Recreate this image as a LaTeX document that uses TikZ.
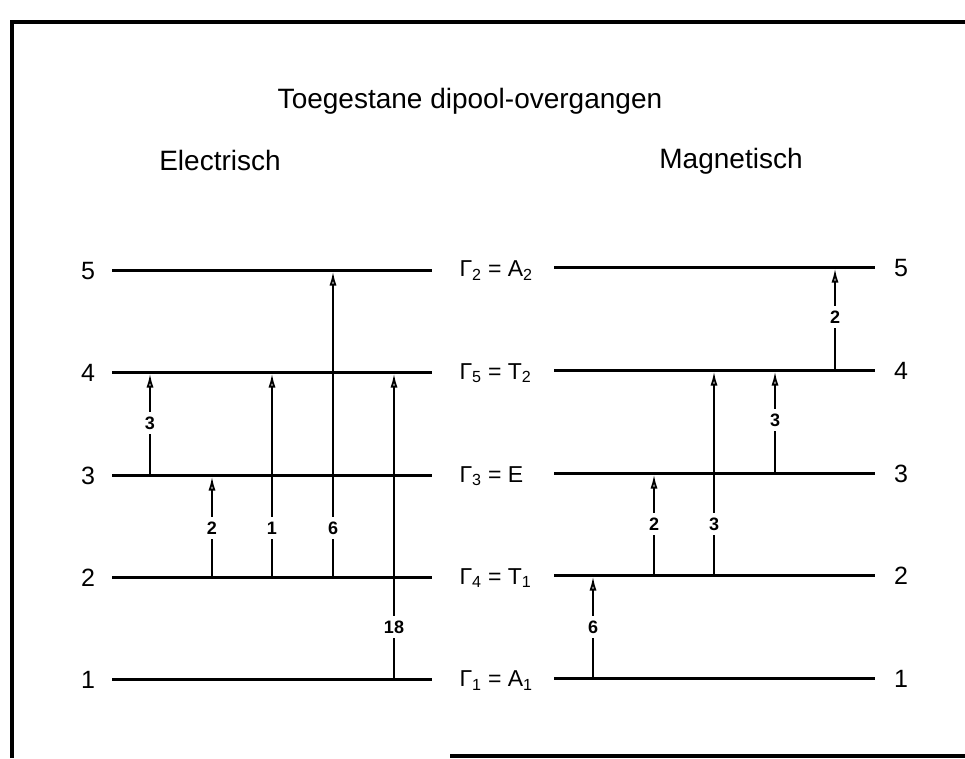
\documentclass[tikz,border=0pt]{standalone}
\usepackage{fontspec}
\setmainfont{Liberation Sans}
\usetikzlibrary{arrows.meta}
\newcommand{\dtrans}[6]{%
  \coordinate (#6a) at (#1,#2);
  \coordinate (#6b) at (#1,#3+1.5);
  \draw[trans] (#6a) -- (#6b);
  \node[tlabel] (#6t) at (#1,#4) {#5};
}
\begin{document}
\begin{tikzpicture}[x=1pt,y=-1pt,
  frame/.style={line width=3.5pt},
  levelline/.style={line width=3pt},
  trans/.style={line width=2pt,-{Latex[open,length=14pt,width=7pt,line width=1.8pt]}},
  tlabel/.style={fill=white,inner xsep=1pt,inner ysep=5pt,font=\fontsize{18}{18}\selectfont\bfseries},
  lvl/.style={font=\fontsize{25}{25}\selectfont,anchor=base},
  grp/.style={font=\fontsize{23}{23}\selectfont,anchor=base west},
  head/.style={font=\fontsize{28}{28}\selectfont,anchor=base}]
\useasboundingbox (0,0) rectangle (965,758);
% frame
\draw[frame] (12,758) -- (12,22) -- (965,22);
\draw[frame] (450,756) -- (965,756);
% headings
\node[head] (title) at (470,108) {Toegestane dipool-overgangen};
\node[head] (hE) at (220,170) {Electrisch};
\node[head] (hM) at (731,168) {Magnetisch};
% levels
\foreach \n/\yl/\yr/\g in {1/679/678/{Γ\textsubscript{1} = A\textsubscript{1}},
                           2/577/575/{Γ\textsubscript{4} = T\textsubscript{1}},
                           3/475/473/{Γ\textsubscript{3} = E},
                           4/372/370/{Γ\textsubscript{5} = T\textsubscript{2}},
                           5/270/267/{Γ\textsubscript{2} = A\textsubscript{2}}}{
  \node[lvl] (L\n) at (88,\yl+9) {\n};
  \node[lvl] (R\n) at (901,\yr+9) {\n};
  \node[grp] (G\n) at (456,{(\yl+\yr)/2+8}) {\g};
  \coordinate (LA\n) at (112,\yl);
  \coordinate (LB\n) at (432,\yl);
  \coordinate (RA\n) at (554,\yr);
  \coordinate (RB\n) at (875,\yr);
  \draw[levelline] (LA\n) -- (LB\n);
  \draw[levelline] (RA\n) -- (RB\n);
}
% electric transitions
\dtrans{150}{475}{372}{423}{3}{E1}
\dtrans{212}{577}{475}{528}{2}{E2}
\dtrans{272}{577}{372}{528}{1}{E3}
\dtrans{333}{577}{270}{528}{6}{E4}
\dtrans{394}{679}{372}{627}{18}{E5}
% magnetic transitions
\dtrans{593}{678}{575}{627}{6}{M1}
\dtrans{654}{575}{473}{524}{2}{M2}
\dtrans{714}{575}{370}{524}{3}{M3}
\dtrans{775}{473}{370}{420}{3}{M4}
\dtrans{835}{370}{267}{317}{2}{M5}
\end{tikzpicture}
\end{document}
